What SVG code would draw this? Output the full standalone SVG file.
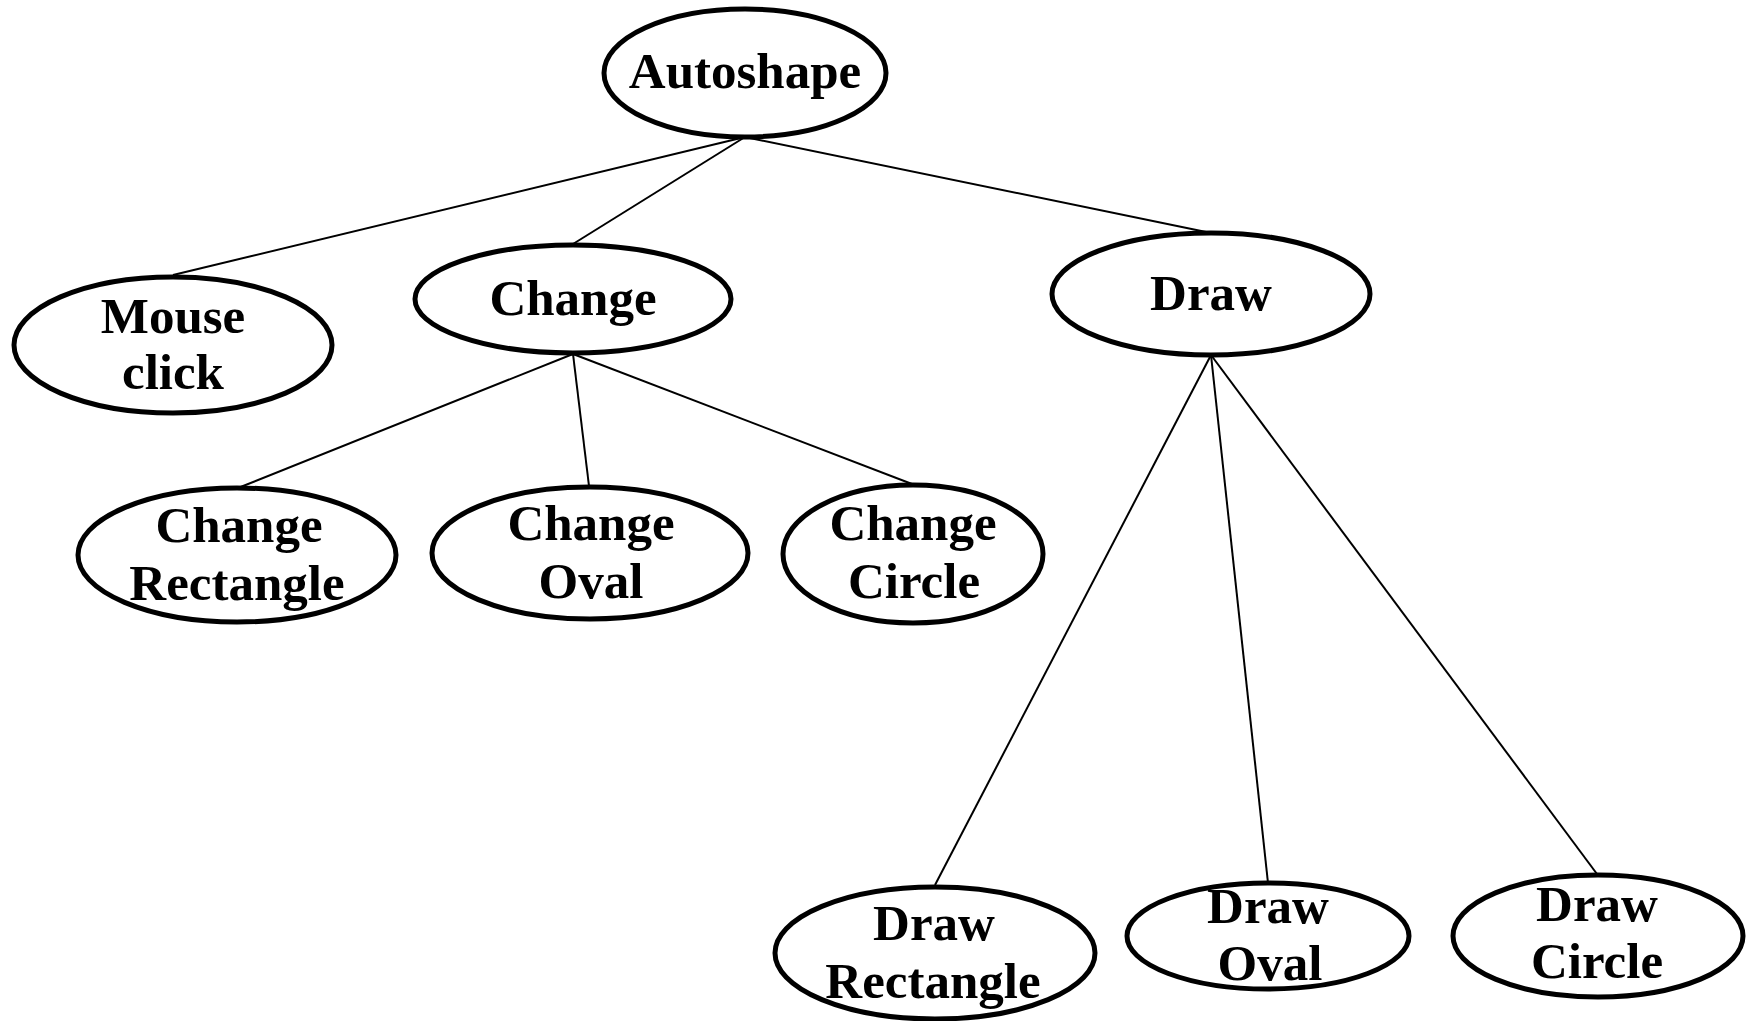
<svg xmlns="http://www.w3.org/2000/svg" width="1750" height="1021" viewBox="0 0 1750 1021">
<style>
.n ellipse{fill:#fff;stroke:#000;stroke-width:5}
.n text{font-family:"Liberation Serif","Times New Roman",serif;font-weight:bold;font-size:51px;fill:#000;text-anchor:middle}
#edges line{stroke:#000;stroke-width:2}
</style>
<rect width="1750" height="1021" fill="#fff"/>
<g id="edges">
<line x1="745" y1="137" x2="173" y2="275"/>
<line x1="745" y1="137" x2="573" y2="244"/>
<line x1="745" y1="137" x2="1211" y2="233"/>
<line x1="573" y1="354" x2="238" y2="488"/>
<line x1="573" y1="354" x2="589" y2="486"/>
<line x1="573" y1="354" x2="912" y2="484"/>
<line x1="1211" y1="355" x2="935" y2="885"/>
<line x1="1211" y1="355" x2="1268" y2="883"/>
<line x1="1211" y1="355" x2="1597" y2="874"/>
</g>
<g id="autoshape" class="n"><ellipse cx="745" cy="73" rx="141" ry="64"/><text x="745" y="88">Autoshape</text></g>
<g id="mouse-click" class="n"><ellipse cx="173" cy="345" rx="159" ry="68"/><text x="173" y="333">Mouse</text><text x="173" y="389">click</text></g>
<g id="change" class="n"><ellipse cx="573" cy="299" rx="158" ry="54"/><text x="573" y="315">Change</text></g>
<g id="draw" class="n"><ellipse cx="1211" cy="294" rx="159" ry="61"/><text x="1211" y="310">Draw</text></g>
<g id="change-rectangle" class="n"><ellipse cx="237" cy="555" rx="159" ry="67"/><text x="239" y="542">Change</text><text x="237" y="600">Rectangle</text></g>
<g id="change-oval" class="n"><ellipse cx="590" cy="553" rx="158" ry="66"/><text x="591" y="540">Change</text><text x="591" y="598">Oval</text></g>
<g id="change-circle" class="n"><ellipse cx="913" cy="554" rx="130" ry="69"/><text x="913" y="540">Change</text><text x="914" y="598">Circle</text></g>
<g id="draw-rectangle" class="n"><ellipse cx="935" cy="953" rx="160" ry="66"/><text x="934" y="940">Draw</text><text x="933" y="998">Rectangle</text></g>
<g id="draw-oval" class="n"><ellipse cx="1268" cy="936" rx="141" ry="53"/><text x="1268" y="923">Draw</text><text x="1270" y="980">Oval</text></g>
<g id="draw-circle" class="n"><ellipse cx="1598" cy="936" rx="145" ry="61"/><text x="1597" y="921">Draw</text><text x="1597" y="978">Circle</text></g>
</svg>
